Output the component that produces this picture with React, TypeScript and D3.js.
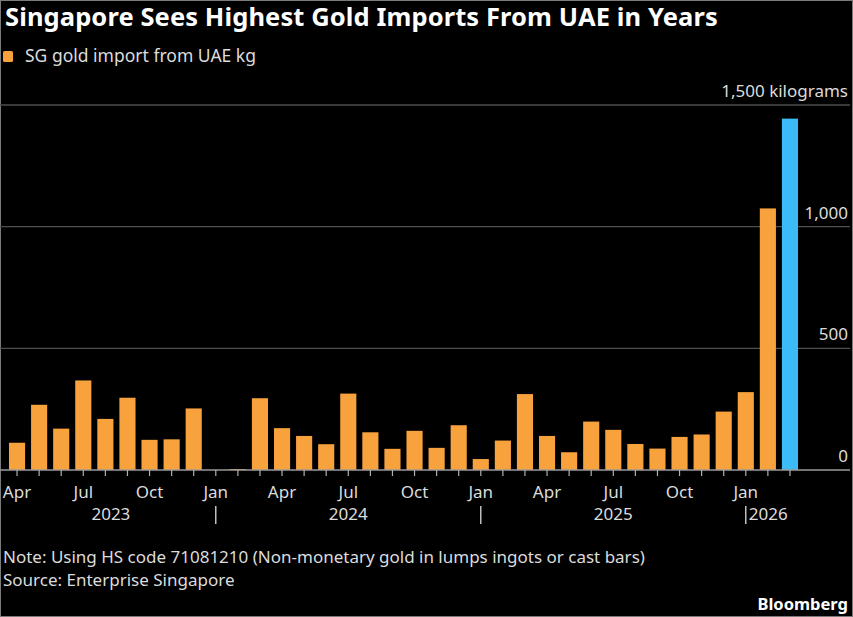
import { useMemo } from "react";
import * as d3 from "d3";

// SG gold imports from UAE, kg, monthly Apr 2023 - Mar 2026
const startMonth = new Date(2023, 3, 1);
const endMonth = new Date(2026, 3, 1);
const importsKg = [
  112, 268, 170, 368, 210, 297, 124, 126, 253,
  0, 4, 295, 172, 140, 106, 314, 155, 87, 161, 91, 184,
  45, 121, 312, 140, 73, 199, 165, 107, 88, 136, 146, 240,
  320, 1075, 1444,
];
const yTicks = [0, 500, 1000, 1500];
const quarterNames: Record<number, string> = { 0: "Jan", 3: "Apr", 6: "Jul", 9: "Oct" };

const W = 853;
const H = 617;
const FONT = "'Noto Sans', 'Open Sans', sans-serif";
const ORANGE = "#f8a23e";
const BLUE = "#3cbcf6";
const LABEL = "#dcdcdc";

export default function App() {
  const months = useMemo(() => d3.timeMonth.range(startMonth, endMonth), []);

  const x = d3
    .scaleBand<number>()
    .domain(months.map((_, i) => i))
    .range([6, 801])
    .paddingInner(0.27)
    .paddingOuter(0.135);
  const y = d3.scaleLinear().domain([0, 1500]).range([470, 105]);

  const cx = (i: number) => (x(i) ?? 0) + x.bandwidth() / 2;
  const fmt = d3.format(",");

  // year dividers sit on each January
  const janIdx = months.map((m, i) => (m.getMonth() === 0 ? i : -1)).filter((i) => i >= 0);
  const years = [2023, 2024, 2025];
  const edges = [6, ...janIdx.map(cx)];

  return (
    <svg
      width={W}
      height={H}
      style={{ position: "absolute", left: 0, top: 0, background: "#000" }}
      fontFamily={FONT}
    >
      <rect x={0.5} y={0.5} width={W - 1} height={H - 1} fill="#000" stroke="#7a7a7a" />

      <text x={5} y={26} fill="#fff" fontSize={25.5} fontWeight={700} letterSpacing={0.1}>
        Singapore Sees Highest Gold Imports From UAE in Years
      </text>

      <rect x={3} y={51} width={10} height={11} rx={1.5} fill={ORANGE} />
      <text x={25} y={62} fill={LABEL} fontSize={17.5}>
        SG gold import from UAE kg
      </text>

      {/* gridlines */}
      {yTicks.slice(1).map((t) => (
        <line key={t} x1={0} x2={850} y1={y(t)} y2={y(t)} stroke="#4e4e4e" strokeWidth={1.3} />
      ))}
      {yTicks.map((t) => (
        <text key={t} x={848} y={y(t) - 8} textAnchor="end" fill={LABEL} fontSize={17}>
          {t === 1500 ? `${fmt(t)} kilograms` : fmt(t)}
        </text>
      ))}

      {/* bars */}
      {importsKg.map((v, i) => (
        <rect
          key={i}
          x={x(i)}
          y={y(v)}
          width={x.bandwidth()}
          height={y(0) - y(v)}
          fill={i === importsKg.length - 1 ? BLUE : ORANGE}
        />
      ))}

      {/* baseline and ticks */}
      <line x1={0} x2={850} y1={y(0)} y2={y(0)} stroke="#9a9a9a" strokeWidth={1.5} />
      {months.map((_, i) => (
        <line key={i} x1={cx(i)} x2={cx(i)} y1={y(0)} y2={y(0) + 6} stroke="#b0b0b0" strokeWidth={1.2} />
      ))}
      {months.map((m, i) =>
        quarterNames[m.getMonth()] ? (
          <text key={i} x={cx(i)} y={498} textAnchor="middle" fill={LABEL} fontSize={17}>
            {quarterNames[m.getMonth()]}
          </text>
        ) : null
      )}

      {years.map((yr, k) => (
        <text key={yr} x={(edges[k] + edges[k + 1]) / 2} y={520} textAnchor="middle" fill={LABEL} fontSize={17}>
          {yr}
        </text>
      ))}
      {janIdx.map((i) => (
        <line key={i} x1={cx(i)} x2={cx(i)} y1={506} y2={524} stroke={LABEL} strokeWidth={1.3} />
      ))}
      <text x={cx(janIdx[2]) + 3} y={520} fill={LABEL} fontSize={17}>
        2026
      </text>

      <text x={3} y={563} fill={LABEL} fontSize={17}>
        Note: Using HS code 71081210 (Non-monetary gold in lumps ingots or cast bars)
      </text>
      <text x={3} y={586} fill={LABEL} fontSize={17}>
        Source: Enterprise Singapore
      </text>
      <text x={848} y={610} textAnchor="end" fill="#fff" fontSize={16.5} fontWeight={700}>
        Bloomberg
      </text>
    </svg>
  );
}
